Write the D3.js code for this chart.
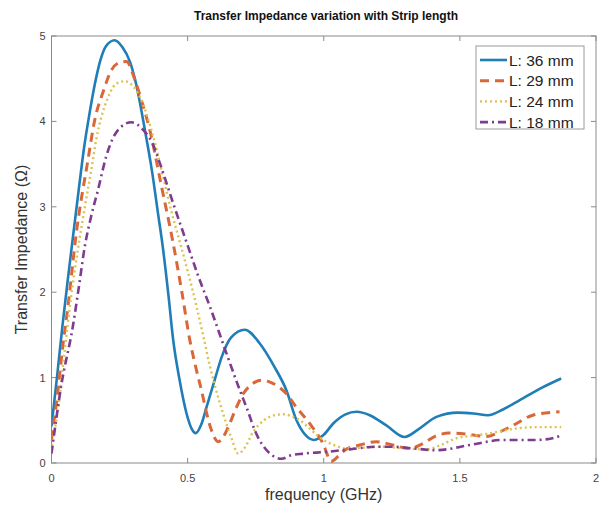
<!DOCTYPE html>
<html>
<head>
<meta charset="utf-8">
<script src="https://cdn.jsdelivr.net/npm/d3@7"></script>
<style>
  body { margin: 0; background: #fff; }
  svg { font-family: "Liberation Sans", Arial, sans-serif; }
</style>
</head>
<body>
<script>
var width = 605;
var height = 506;

// values (frequency in GHz, impedance in ohm)
var f36 = [0, 0.02, 0.04, 0.06, 0.08, 0.10, 0.12, 0.14, 0.16, 0.18, 0.20, 0.232, 0.26, 0.288, 0.31, 0.343, 0.37, 0.39, 0.41, 0.43, 0.447, 0.47, 0.496, 0.515, 0.53, 0.55, 0.57, 0.60, 0.625, 0.66, 0.71, 0.765, 0.82, 0.863, 0.90, 0.935, 0.965, 1.0, 1.034, 1.08, 1.12, 1.169, 1.23, 1.297, 1.35, 1.414, 1.493, 1.55, 1.603, 1.66, 1.72, 1.80, 1.872];
var z36 = [0.43, 1.0, 1.6, 2.15, 2.68, 3.2, 3.7, 4.1, 4.45, 4.72, 4.88, 4.95, 4.87, 4.70, 4.45, 3.9, 3.4, 2.95, 2.5, 1.95, 1.44, 0.98, 0.58, 0.40, 0.35, 0.45, 0.66, 0.98, 1.24, 1.47, 1.56, 1.40, 1.12, 0.85, 0.50, 0.32, 0.27, 0.33, 0.46, 0.57, 0.60, 0.56, 0.44, 0.305, 0.40, 0.54, 0.59, 0.58, 0.56, 0.63, 0.735, 0.88, 0.99];

var f29 = [0, 0.02, 0.042, 0.061, 0.091, 0.134, 0.159, 0.19, 0.22, 0.25, 0.275, 0.306, 0.33, 0.361, 0.404, 0.447, 0.48, 0.508, 0.53, 0.551, 0.57, 0.588, 0.612, 0.63, 0.649, 0.675, 0.704, 0.735, 0.77, 0.80, 0.863, 0.90, 0.949, 0.997, 1.028, 1.05, 1.077, 1.132, 1.193, 1.254, 1.316, 1.36, 1.407, 1.46, 1.524, 1.597, 1.65, 1.695, 1.768, 1.866];
var z29 = [0.28, 0.75, 1.38, 1.85, 2.69, 3.55, 4.02, 4.35, 4.60, 4.69, 4.70, 4.49, 4.25, 3.90, 3.24, 2.57, 1.98, 1.44, 1.12, 0.85, 0.58, 0.38, 0.25, 0.30, 0.42, 0.62, 0.81, 0.92, 0.97, 0.95, 0.81, 0.65, 0.46, 0.23, 0.02, 0.07, 0.15, 0.21, 0.25, 0.21, 0.17, 0.22, 0.31, 0.35, 0.34, 0.31, 0.37, 0.44, 0.56, 0.60];

var f24 = [0, 0.025, 0.048, 0.07, 0.097, 0.12, 0.146, 0.165, 0.183, 0.205, 0.226, 0.25, 0.27, 0.30, 0.33, 0.374, 0.41, 0.44, 0.472, 0.50, 0.533, 0.56, 0.582, 0.605, 0.63, 0.66, 0.686, 0.71, 0.74, 0.78, 0.82, 0.851, 0.88, 0.912, 0.95, 0.985, 1.03, 1.083, 1.15, 1.218, 1.30, 1.377, 1.43, 1.487, 1.55, 1.597, 1.695, 1.78, 1.872];
var z24 = [0.2, 0.65, 1.3, 1.9, 2.5, 2.95, 3.43, 3.8, 4.05, 4.26, 4.40, 4.46, 4.47, 4.41, 4.25, 3.82, 3.35, 2.95, 2.58, 2.25, 1.83, 1.45, 1.13, 0.85, 0.58, 0.30, 0.11, 0.18, 0.36, 0.50, 0.56, 0.57, 0.55, 0.50, 0.40, 0.30, 0.22, 0.17, 0.18, 0.19, 0.17, 0.16, 0.21, 0.29, 0.32, 0.34, 0.40, 0.42, 0.42];

var f18 = [0, 0.036, 0.079, 0.10, 0.122, 0.145, 0.171, 0.201, 0.225, 0.25, 0.293, 0.337, 0.37, 0.398, 0.447, 0.502, 0.54, 0.582, 0.643, 0.692, 0.72, 0.747, 0.796, 0.845, 0.88, 0.924, 1.01, 1.095, 1.193, 1.254, 1.33, 1.414, 1.536, 1.658, 1.78, 1.84, 1.872];
var z18 = [0.11, 0.91, 1.61, 2.05, 2.53, 2.88, 3.20, 3.59, 3.80, 3.92, 3.99, 3.90, 3.75, 3.51, 3.04, 2.53, 2.18, 1.83, 1.28, 0.85, 0.62, 0.38, 0.13, 0.05, 0.09, 0.11, 0.13, 0.16, 0.19, 0.19, 0.17, 0.15, 0.21, 0.27, 0.27, 0.29, 0.32];

var seriesNames = ["L: 36 mm", "L: 29 mm", "L: 24 mm", "L: 18 mm"];
var xTicks = [0, 0.5, 1, 1.5, 2];
var yTicks = [0, 1, 2, 3, 4, 5];

var colors = ["#1f7db8", "#d8683a", "#dcc24e", "#7e3b8f"];
var dashes = [null, "9,6", "2,3", "8,4,2,4"];
var widths = [2.6, 3, 2.4, 2.6];

var series = [[f36, z36], [f29, z29], [f24, z24], [f18, z18]].map(function(s, i) {
    return { name: seriesNames[i], values: s[0].map(function(f, j) { return [f, s[1][j]]; }) };
});

var x = d3.scaleLinear().domain([0, 2]).range([51.5, 596]);
var y = d3.scaleLinear().domain([0, 5]).range([463, 36]);

var svg = d3.select("body")
    .append("svg")
    .attr("width", width)
    .attr("height", height);

// box
svg.append("rect")
    .attr("x", x(0)).attr("y", y(5))
    .attr("width", x(2) - x(0)).attr("height", y(0) - y(5))
    .attr("fill", "none").attr("stroke", "#8a8a8a");

var tickLen = 5;
var ax = svg.append("g");
xTicks.forEach(function(t) {
    ax.append("line").attr("x1", x(t)).attr("x2", x(t)).attr("y1", y(0)).attr("y2", y(0) - tickLen).attr("stroke", "#8a8a8a");
    ax.append("line").attr("x1", x(t)).attr("x2", x(t)).attr("y1", y(5)).attr("y2", y(5) + tickLen).attr("stroke", "#8a8a8a");
    ax.append("text")
        .attr("x", x(t)).attr("y", y(0) + 19)
        .attr("text-anchor", "middle")
        .attr("font-size", "11px").attr("fill", "#444")
        .text(t);
});
yTicks.forEach(function(t) {
    ax.append("line").attr("x1", x(0)).attr("x2", x(0) + tickLen).attr("y1", y(t)).attr("y2", y(t)).attr("stroke", "#8a8a8a");
    ax.append("line").attr("x1", x(2)).attr("x2", x(2) - tickLen).attr("y1", y(t)).attr("y2", y(t)).attr("stroke", "#8a8a8a");
    ax.append("text")
        .attr("x", x(0) - 6).attr("y", y(t) + 4)
        .attr("text-anchor", "end")
        .attr("font-size", "11px").attr("fill", "#444")
        .text(t);
});

var line = d3.line()
    .x(function(d) { return x(d[0]); })
    .y(function(d) { return y(d[1]); })
    .curve(d3.curveMonotoneX);

svg.append("defs").append("clipPath").attr("id", "clip")
    .append("rect").attr("x", x(0)).attr("y", y(5))
    .attr("width", x(2) - x(0)).attr("height", y(0) - y(5));

svg.append("g").attr("clip-path", "url(#clip)")
    .selectAll("path")
    .data(series)
    .enter()
    .append("path")
    .attr("d", function(d) { return line(d.values); })
    .attr("fill", "none")
    .attr("stroke", function(d, i) { return colors[i]; })
    .attr("stroke-width", function(d, i) { return widths[i]; })
    .attr("stroke-dasharray", function(d, i) { return dashes[i]; })
    .attr("stroke-linejoin", "round");

// title and axis labels
svg.append("text")
    .attr("x", 326).attr("y", 20)
    .attr("text-anchor", "middle")
    .attr("font-size", "12px").attr("font-weight", "bold").attr("fill", "#111")
    .text("Transfer Impedance variation with Strip length");

svg.append("text")
    .attr("x", (x(0) + x(2)) / 2).attr("y", 500)
    .attr("text-anchor", "middle")
    .attr("font-size", "16px").attr("fill", "#333")
    .text("frequency (GHz)");

svg.append("text")
    .attr("transform", "translate(27," + (y(0) + y(5)) / 2 + ") rotate(-90)")
    .attr("text-anchor", "middle")
    .attr("font-size", "16px").attr("fill", "#333")
    .text("Transfer Impedance (\u03A9)");

// legend
var lg = svg.append("g");
lg.append("rect")
    .attr("x", 476).attr("y", 46).attr("width", 108).attr("height", 83)
    .attr("fill", "#fff").attr("stroke", "#9a9a9a");
series.forEach(function(s, i) {
    var ly = 60 + i * 20.7;
    lg.append("line")
        .attr("x1", 480).attr("x2", 507).attr("y1", ly).attr("y2", ly)
        .attr("stroke", colors[i]).attr("stroke-width", widths[i])
        .attr("stroke-dasharray", dashes[i]);
    lg.append("text")
        .attr("x", 509).attr("y", ly + 5.5)
        .attr("font-size", "15.5px").attr("fill", "#222")
        .text(s.name);
});
</script>
</body>
</html>
